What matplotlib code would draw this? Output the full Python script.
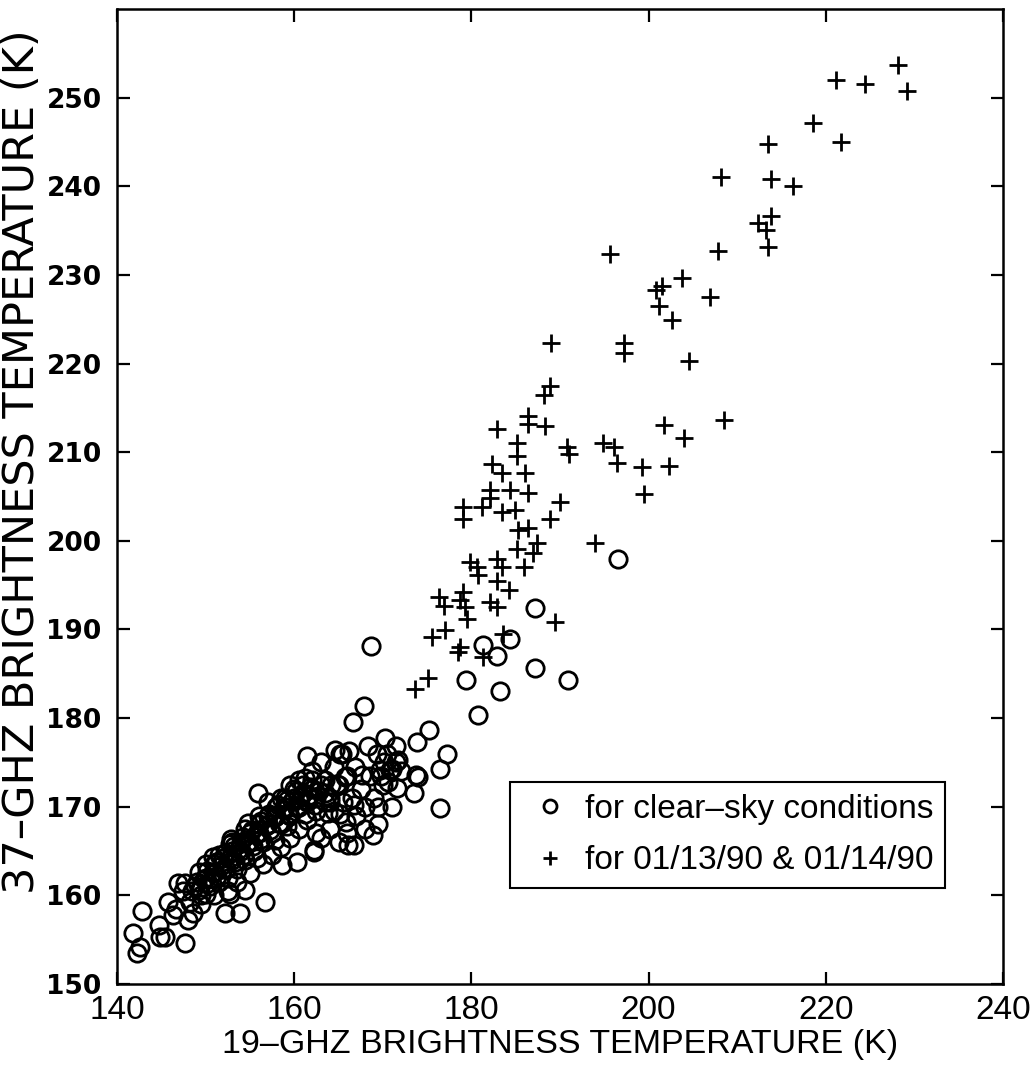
import matplotlib
matplotlib.use('Agg')
import matplotlib.pyplot as plt

# ---------------------------------------------------------------
# 19 GHz vs 37 GHz brightness temperatures (K)
# ---------------------------------------------------------------
# clear-sky conditions (open circles)
clear = [
    # upper outliers
    (196.5, 198.0), (187.2, 192.4), (168.7, 188.1), (181.3, 188.3), (182.9, 187.0),
    (184.3, 188.9), (187.2, 185.6), (190.9, 184.3), (179.4, 184.3), (183.2, 183.1),
    (180.8, 180.4), (167.9, 181.4), (166.6, 179.5), (175.2, 178.6), (173.9, 177.3),
    (177.3, 175.9), (176.5, 174.2), (170.3, 177.8), (171.5, 176.9), (168.3, 176.8),
    (165.4, 176.0), (161.5, 175.7), (155.9, 171.5), (164.6, 176.4), (165.2, 176.0),
    (176.5, 169.9), (174.0, 173.4), (173.5, 171.5), (171.6, 172.1), (168.9, 166.8),
    (166.7, 165.7), (162.2, 165.1), (170.1, 175.0), (171.0, 174.3), (169.8, 173.5),
    (170.6, 172.8), (169.3, 176.0), (171.7, 175.3), (170.8, 174.1), (169.7, 174.1),
    (173.8, 173.6), (165.7, 173.4), (164.8, 172.6),
    # lower-left tail
    (142.8, 158.2), (141.8, 155.7), (142.6, 154.2), (142.2, 153.5), (144.7, 156.7),
    (144.9, 155.3), (145.4, 155.3), (147.7, 154.6), (145.8, 159.3), (146.7, 158.5),
    (146.3, 157.8), (148.0, 157.2), (148.6, 158.0), (146.9, 161.4), (147.7, 161.4),
    (152.2, 158.0), (153.9, 158.0), (156.7, 159.3), (154.4, 160.6), (152.8, 160.2),
    (158.6, 163.4), (160.3, 163.8), (162.2, 164.9), (162.5, 167.0), (166.1, 165.7),
    (152.9, 166.4),
    # dense band
    (148.5, 160.5), (149.0, 161.5), (149.5, 160.0), (150.0, 162.0), (150.5, 161.0),
    (150.0, 160.2), (151.0, 162.5), (151.5, 161.5), (151.0, 163.5), (152.0, 163.0),
    (152.5, 162.0), (152.0, 164.2), (153.0, 164.0), (153.5, 163.0), (153.0, 165.0),
    (154.0, 165.0), (154.5, 164.0), (154.0, 166.0), (155.0, 166.0), (155.5, 165.0),
    (155.0, 167.0), (156.0, 167.0), (156.5, 166.0), (156.0, 168.0), (157.0, 168.0),
    (157.5, 167.0), (157.0, 169.0), (158.0, 169.0), (158.5, 168.0), (158.0, 170.0),
    (159.0, 170.0), (159.5, 169.0), (159.0, 171.0), (160.0, 171.0), (160.5, 170.0),
    (160.0, 172.0), (161.0, 171.5), (161.5, 170.5), (161.0, 172.5), (162.0, 172.0),
    (162.5, 171.0), (162.0, 173.0), (163.0, 172.5),
    (149.5, 159.0), (151.0, 160.0), (152.5, 160.5), (153.5, 161.5), (155.0, 162.5),
    (156.5, 163.5), (157.5, 164.5), (158.5, 165.5), (159.5, 166.5), (160.5, 167.5),
    (161.5, 168.5), (162.5, 169.5), (163.5, 170.5),
    (150.0, 163.5), (151.5, 164.5), (153.0, 166.0), (154.5, 167.5), (156.0, 169.0),
    (157.0, 170.5), (158.5, 171.0), (159.5, 172.5), (160.5, 173.0),
    (152.7, 165.8), (154.8, 168.2), (149.2, 162.6), (147.5, 160.5), (148.2, 159.3),
    (150.8, 164.3), (155.8, 164.2), (157.8, 166.2), (159.2, 167.8), (161.2, 169.2),
    (148.8, 161.0), (149.8, 161.8), (150.8, 162.6), (151.8, 163.4), (152.8, 164.2),
    (153.8, 165.2), (154.8, 166.0), (155.8, 167.0), (156.8, 167.8), (157.8, 168.8),
    (158.8, 169.6), (159.8, 170.6), (160.8, 171.2), (161.8, 172.2), (162.8, 171.8),
    (149.3, 160.6), (150.3, 161.4), (151.3, 162.2), (152.3, 163.0), (153.3, 163.8),
    (154.3, 164.6), (155.3, 165.6), (156.3, 166.4), (157.3, 167.4), (158.3, 168.2),
    (159.3, 169.2), (160.3, 169.8), (161.3, 170.8), (162.3, 170.2),
    (150.2, 162.8), (151.2, 163.8), (152.2, 164.8), (153.2, 165.6), (154.2, 166.6),
    (155.2, 167.4), (156.2, 168.4), (157.2, 169.2), (158.2, 170.2), (159.2, 170.8),
    (160.2, 171.8), (161.2, 173.2),
    # scattered middle
    (163.5, 173.0), (164.0, 171.0), (164.5, 169.5), (165.0, 172.5), (165.5, 170.5),
    (166.0, 173.5), (166.5, 171.0), (167.0, 169.0), (167.5, 172.0), (168.0, 170.0),
    (168.5, 173.5), (169.0, 171.0), (169.5, 170.0), (170.0, 172.5), (164.0, 167.5),
    (165.0, 166.0), (163.0, 166.5), (166.0, 167.0), (168.0, 167.5), (169.5, 168.0),
    (171.0, 170.0), (171.5, 175.0), (170.5, 176.0), (172.0, 174.0), (163.0, 175.0),
    (162.0, 174.0), (164.5, 174.5), (166.2, 176.3), (163.5, 171.5), (164.2, 172.4),
    (163.8, 169.3), (165.2, 169.2), (166.8, 170.2), (165.8, 168.3), (167.6, 173.6),
    (166.9, 174.5), (164.0, 170.5),
]

# 01/13/90 & 01/14/90 (plus signs)
storm = [
    (228.2, 253.7), (221.1, 252.0), (224.4, 251.5), (229.2, 250.8), (218.5, 247.1),
    (221.7, 245.0), (213.5, 244.8), (208.2, 241.0), (213.8, 240.8), (216.3, 240.0),
    (213.8, 236.7), (212.3, 235.8), (213.3, 235.1), (213.5, 233.2), (207.8, 232.7),
    (195.6, 232.4), (203.8, 229.6), (201.5, 228.7), (200.8, 228.3), (206.9, 227.5),
    (201.2, 226.5), (202.6, 224.9), (197.2, 222.3), (197.2, 221.2), (204.6, 220.3),
    (189.0, 222.3),
    (188.9, 217.5), (188.2, 216.4), (186.4, 214.1), (186.4, 213.2), (188.3, 213.0),
    (182.9, 212.6), (190.8, 210.6), (191.0, 209.8), (194.9, 211.0), (196.1, 210.6),
    (196.4, 208.8), (199.2, 208.3), (202.3, 208.4), (199.5, 205.3), (201.7, 213.1),
    (204.0, 211.6), (208.5, 213.6), (185.1, 211.0), (185.1, 209.6), (182.3, 208.7),
    (183.4, 207.6), (186.0, 207.6), (182.1, 205.7), (184.4, 205.7), (186.4, 205.4),
    (182.1, 204.8), (181.2, 203.8), (179.1, 203.8), (179.1, 202.5), (183.4, 203.2),
    (184.9, 203.5), (190.0, 204.4), (188.9, 202.5), (185.3, 201.2), (186.4, 201.4),
    (187.4, 199.7), (185.1, 199.1), (187.0, 198.6), (185.9, 197.1), (193.9, 199.7),
    (179.8, 197.6), (180.6, 197.1), (182.9, 198.0), (183.4, 197.1), (180.8, 196.1),
    (182.9, 195.5), (184.2, 194.4), (179.1, 194.2), (176.3, 193.7), (176.9, 192.7),
    (178.7, 193.3), (179.3, 192.5), (179.5, 191.2), (182.1, 193.1), (182.9, 192.5),
    (189.4, 190.8), (175.5, 189.2), (177.0, 189.9), (178.7, 188.0), (183.6, 189.5),
    (178.5, 187.5), (181.3, 186.9), (175.1, 184.5), (173.6, 183.3),
]

clear_x = [p[0] for p in clear]
clear_y = [p[1] for p in clear]
storm_x = [p[0] for p in storm]
storm_y = [p[1] for p in storm]

xticks = [140, 160, 180, 200, 220, 240]
yticks = [150, 160, 170, 180, 190, 200, 210, 220, 230, 240, 250]

plt.rcParams['font.family'] = ['Liberation Sans', 'DejaVu Sans']

fig = plt.figure(figsize=(10.3, 10.7), dpi=100)
ax = fig.add_axes([0.1136, 0.0804, 0.8602, 0.9112])

ax.plot(clear_x, clear_y, 'o', mfc='none', mec='black', ms=12.5, mew=2.0,
        label='for clear\u2013sky conditions')
ax.plot(storm_x, storm_y, '+', color='black', ms=13, mew=2.0,
        label='for 01/13/90 & 01/14/90')

ax.set_xlim(140, 240)
ax.set_ylim(150, 260)
ax.set_xticks(xticks)
ax.set_yticks(yticks)
ax.set_xticklabels([str(t) for t in xticks], fontsize=24)
ax.set_yticklabels([str(t) for t in yticks], fontsize=19, fontweight='bold',
                   family='DejaVu Sans')
ax.tick_params(direction='in', length=9, width=1.6, top=True, right=True)
ax.tick_params(axis='x', pad=8)
ax.tick_params(axis='y', pad=11)
for s in ax.spines.values():
    s.set_linewidth(1.8)

ax.set_xlabel('19\u2013GHZ BRIGHTNESS TEMPERATURE (K)', fontsize=24.5, labelpad=2)
fig.text(22 / 1030, 1 - 462 / 1070, '37\u2013GHZ BRIGHTNESS TEMPERATURE (K)',
         rotation=90, ha='center', va='center', fontsize=31, family='DejaVu Sans')

leg = ax.legend(loc='upper left', bbox_to_anchor=(0.4436, 0.207), fontsize=24,
                frameon=True, fancybox=False, edgecolor='black', framealpha=1,
                handlelength=1.7, handletextpad=0.2, borderpad=0.35,
                labelspacing=0.62, markerscale=0.75, borderaxespad=0)
leg.get_frame().set_linewidth(1.5)

fig.savefig('out.png', dpi=100)
